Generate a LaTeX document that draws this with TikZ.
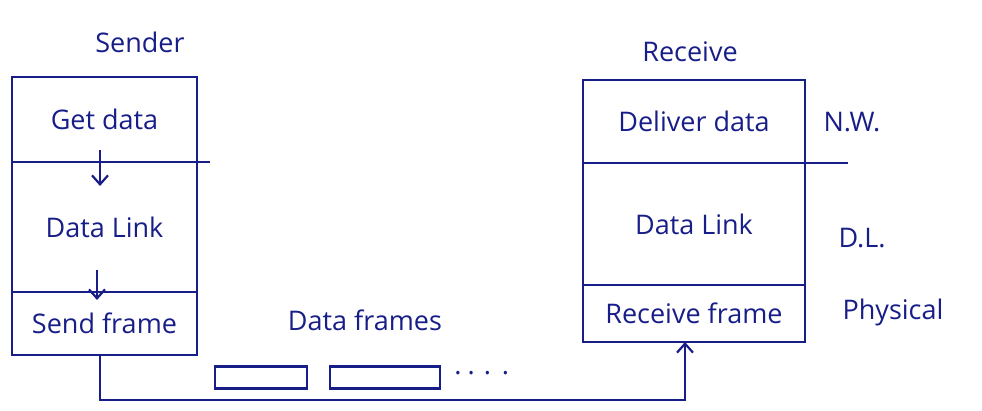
\documentclass[tikz,border=0pt]{standalone}
\usepackage{fontspec}
\setmainfont{Open Sans}
\usetikzlibrary{positioning, arrows.meta}
\definecolor{ink}{RGB}{24,30,135}

\begin{document}
\begin{tikzpicture}[x=1pt,y=1pt,
        line width=2.2pt, color=ink,
        every node/.style={text=ink, font=\fontsize{27}{31}\selectfont},
        layer/.style={draw, outer sep=0pt, inner sep=0pt},
        frame/.style={draw, outer sep=0pt, inner sep=0pt, minimum height=22},
        wire/.style={-{Straight Barb[length=9pt,width=16pt]}}]
    \useasboundingbox (0,0) rectangle (982,410);

    % sender stack
    \node (sender) at (140,368) {Sender};
    \node[layer, minimum width=185, minimum height=85] (get) at (104.5,290.5) {Get data};
    \node[layer, minimum width=185, minimum height=130, below=0pt of get] (sdl) {Data Link};
    \node[layer, minimum width=185, minimum height=63, below=0pt of sdl] (send) {Send frame};

    % receiver stack
    \node (receiver) at (690,358) {Receive};
    \node[layer, minimum width=222, minimum height=83] (deliver) at (694,288.5) {Deliver data};
    \node[layer, minimum width=222, minimum height=122, below=0pt of deliver] (rdl) {Data Link};
    \node[layer, minimum width=222, minimum height=57, below=0pt of rdl] (recv) {Receive frame};

    % layer names
    \node (nw) at (852,288) {N.W.};
    \node (dl) at (862,172) {D.L.};
    \node (phys) at (893,98) {Physical};

    % stubs of the dividers
    \draw (get.south east) -- ++(13,0);
    \draw (deliver.south east) -- ++(43,0);

    % flow inside the sender
    \draw[wire] ([xshift=-4.5pt,yshift=12pt]get.south) -- ++(0,-36);
    \draw[wire] ([xshift=-7.5pt,yshift=22pt]sdl.south) -- ++(0,-30);

    % frames on the link
    \node (frames) at (365,90) {Data frames};
    \node[frame, minimum width=92] (f1) at (261,32.5) {};
    \node[frame, minimum width=110, right=23pt of f1] (f2) {};
    \node[right=10pt of f2, yshift=4pt] (more) {.\hspace{6pt}.\hspace{9pt}.\hspace{11pt}.};

    % physical link
    \draw[wire] ([xshift=-4.5pt]send.south) -- ++(0,-45) -| ([xshift=-9pt]recv.south);
\end{tikzpicture}
\end{document}
